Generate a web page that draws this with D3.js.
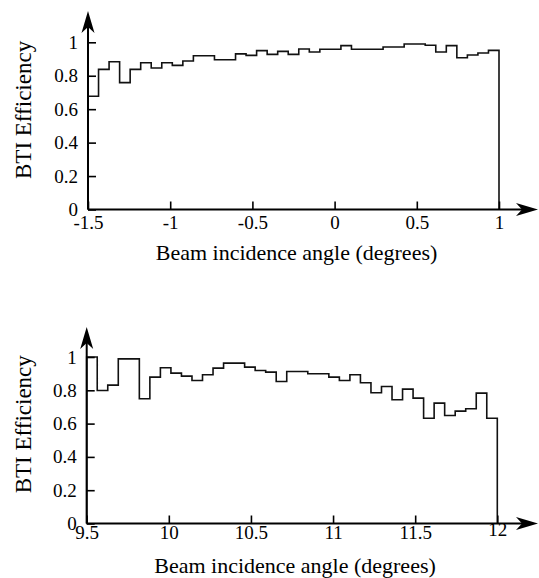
<!DOCTYPE html>
<html><head><meta charset="utf-8">
<script src="https://cdn.jsdelivr.net/npm/d3@7"></script>
<style>
body{margin:0;background:#fff;}
text{font-family:"Liberation Serif","Times New Roman",serif;fill:#000;}
</style></head>
<body><svg id="c" width="539" height="578"></svg>
<script>
// ---- data ----
const yTicks = [0, 0.2, 0.4, 0.6, 0.8, 1];
const topDomain = [-1.5, 1];
const topTicks = [-1.5, -1, -0.5, 0, 0.5, 1];
const topEff = [0.677, 0.838, 0.884, 0.759, 0.838, 0.878, 0.846, 0.878,
  0.862, 0.888, 0.920, 0.920, 0.896, 0.896, 0.931, 0.922,
  0.950, 0.928, 0.946, 0.928, 0.960, 0.942, 0.958, 0.958,
  0.980, 0.958, 0.958, 0.958, 0.972, 0.972, 0.990, 0.990,
  0.982, 0.942, 0.980, 0.908, 0.924, 0.936, 0.952];
const bottomDomain = [9.5, 12];
const bottomTicks = [9.5, 10, 10.5, 11, 11.5, 12];
const bottomEff = [1.0, 0.799, 0.831, 0.989, 0.989, 0.749, 0.879, 0.935,
  0.903, 0.885, 0.859, 0.893, 0.933, 0.963, 0.963, 0.939,
  0.919, 0.909, 0.853, 0.913, 0.913, 0.899, 0.899, 0.879,
  0.859, 0.893, 0.845, 0.785, 0.823, 0.743, 0.807, 0.753,
  0.632, 0.723, 0.649, 0.675, 0.689, 0.783, 0.632];
const xTitle = "Beam incidence angle (degrees)";
const yTitle = "BTI Efficiency";

// ---- layout ----
const FONT = '"Liberation Serif","Times New Roman",serif';
const svg = d3.select("#c");
const panels = [
  {domain: topDomain, ticks: topTicks, vals: topEff, xr: [88, 499], yr: [209.5, 42.3], pad: 6.5, lastDy: 0, tipX: 538, tipY: 11, titleY: 260},
  {domain: bottomDomain, ticks: bottomTicks, vals: bottomEff, xr: [86.7, 497.3], yr: [523.5, 357], pad: 2, lastDy: -3, tipX: 538, tipY: 327, titleY: 573}
];

panels.forEach(p => {
  const x = d3.scaleLinear().domain(p.domain).range(p.xr);
  const y = d3.scaleLinear().domain([0, 1]).range(p.yr);
  const g = svg.append("g");
  const n = p.vals.length;
  const w = (p.domain[1] - p.domain[0]) / n;

  // histogram step line
  let d = `M${x(p.domain[0])},${y(0)}`;
  p.vals.forEach((v, i) => {
    d += `V${y(v)}H${x(p.domain[0] + (i + 1) * w)}`;
  });
  d += `V${y(0)}`;
  g.append("path").attr("d", d).attr("fill", "none").attr("stroke", "#111").attr("stroke-width", 1.6);

  // x axis
  const xa = g.append("g").attr("transform", `translate(0,${y(0)})`)
    .call(d3.axisBottom(x).tickValues(p.ticks).tickFormat(v => String(v)).tickSize(-8).tickPadding(p.pad));
  xa.select(".domain").remove();
  xa.selectAll("line").attr("stroke", "#000").attr("stroke-width", 1.6);
  xa.selectAll("text").attr("font-size", 19).attr("fill", "#000").style("font-family", FONT);
  xa.selectAll(".tick").filter((v, i, arr) => i === arr.length - 1).select("text")
    .attr("transform", `translate(0,${p.lastDy})`);

  // y axis
  const ya = g.append("g").attr("transform", `translate(${x(p.domain[0])},0)`)
    .call(d3.axisLeft(y).tickValues(yTicks).tickFormat(v => String(v)).tickSize(-8).tickPadding(10));
  ya.select(".domain").remove();
  ya.selectAll("line").attr("stroke", "#000").attr("stroke-width", 1.6);
  ya.selectAll("text").attr("font-size", 19).attr("fill", "#000").style("font-family", FONT);

  // axis lines with arrows
  const x0 = x(p.domain[0]), y0 = y(0);
  g.append("line").attr("x1", x0).attr("y1", y0).attr("x2", p.tipX - 10).attr("y2", y0)
    .attr("stroke", "#000").attr("stroke-width", 2);
  g.append("line").attr("x1", x0).attr("y1", y0).attr("x2", x0).attr("y2", p.tipY + 10)
    .attr("stroke", "#000").attr("stroke-width", 2);
  const L = 22, Hh = 6.5, N = 6;
  g.append("path").attr("d", `M${p.tipX},${y0}L${p.tipX - L},${y0 - Hh}L${p.tipX - L + N},${y0}L${p.tipX - L},${y0 + Hh}Z`).attr("fill", "#000");
  g.append("path").attr("d", `M${x0},${p.tipY}L${x0 - Hh},${p.tipY + L}L${x0},${p.tipY + L - N}L${x0 + Hh},${p.tipY + L}Z`).attr("fill", "#000");

  // titles
  g.append("text").attr("x", (p.xr[0] + p.xr[1]) / 2 + 3).attr("y", p.titleY)
    .attr("text-anchor", "middle").attr("font-size", 22).text(xTitle);
  g.append("text").attr("transform", `translate(31,${(p.yr[0] + p.yr[1]) / 2 - 16}) rotate(-90)`)
    .attr("text-anchor", "middle").attr("font-size", 23).text(yTitle);
});
</script></body></html>
